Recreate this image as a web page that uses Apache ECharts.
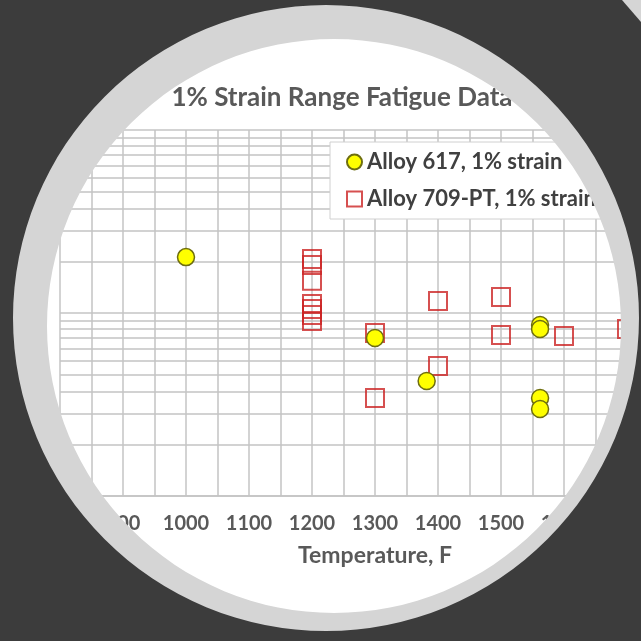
<!DOCTYPE html>
<html>
<head>
<meta charset="utf-8">
<script src="https://cdn.jsdelivr.net/npm/echarts@6/dist/echarts.min.js"></script>
<style>
  html, body { margin: 0; padding: 0; background: #3c3c3c; }
  #main { width: 641px; height: 641px; }
</style>
</head>
<body>
<div id="main"></div>
<script>
const titleText = '1% Strain Range Fatigue Data';
const seriesNames = ['Alloy 617, 1% strain', 'Alloy 709-PT, 1% strain'];

// Alloy 617 points (temperature F, cycles)
const temps617 = [1000, 1300, 1382, 1562, 1562, 1562, 1562];
const cycles617 = [2020, 730, 425, 860, 818, 343, 299];

// Alloy 709-PT points
const temps709 = [1200, 1200, 1200, 1200, 1200, 1200, 1200, 1300, 1300, 1400, 1400, 1500, 1500, 1600, 1700];
const cycles709 = [1970, 1830, 1500, 1120, 1050, 975, 905, 778, 343, 1163, 513, 1223, 758, 749, 818];

const xMin = 800, xMax = 1800, xStep = 100;
const yMin = 100, yMax = 10000;

const font = 'Lato';
const gridColor = '#c4c4c4';

function pairs(xs, ys) {
  return xs.map((x, i) => [x, ys[i]]);
}

const chart = echarts.init(document.getElementById('main'));
chart.setOption({
  backgroundColor: '#ffffff',
  animation: false,
  title: {
    text: titleText,
    left: 337,
    top: 80,
    textAlign: 'center',
    textStyle: { fontFamily: font, fontSize: 26, fontWeight: 'bold', color: '#595959' }
  },
  legend: {
    data: seriesNames,
    orient: 'vertical',
    left: 330,
    top: 142,
    padding: [9, 140, 9, 16],
    itemGap: 15,
    itemWidth: 15,
    itemHeight: 15,
    backgroundColor: '#ffffff',
    borderColor: '#d0d0d0',
    borderWidth: 1,
    textStyle: { fontFamily: font, fontSize: 22, fontWeight: 'bold', color: '#404040' }
  },
  grid: { left: 60, top: 130, width: 630, height: 366, containLabel: false, outerBoundsMode: 'none' },
  xAxis: {
    type: 'value',
    min: xMin,
    max: xMax,
    interval: xStep,
    name: 'Temperature, F',
    nameLocation: 'middle',
    nameGap: 48,
    nameTextStyle: { fontFamily: font, fontSize: 23, fontWeight: 'bold', color: '#595959' },
    axisLine: { show: true, lineStyle: { color: gridColor, width: 1.5 } },
    axisTick: { show: false },
    axisLabel: {
      margin: 18, fontFamily: font, fontSize: 20, fontWeight: 'bold', color: '#595959',
      formatter: v => String(v)
    },
    splitLine: { show: true, lineStyle: { color: gridColor, width: 1.5 } },
    minorTick: { show: false, splitNumber: 2 },
    minorSplitLine: { show: true, lineStyle: { color: gridColor, width: 1.5 } }
  },
  yAxis: {
    type: 'log',
    min: yMin,
    max: yMax,
    logBase: 10,
    axisLine: { show: false },
    axisTick: { show: false },
    axisLabel: { show: false },
    splitLine: { show: true, lineStyle: { color: gridColor, width: 1.5 } },
    minorTick: { show: false, splitNumber: 10 },
    minorSplitLine: { show: true, lineStyle: { color: gridColor, width: 1.5 } }
  },
  series: [
    {
      name: seriesNames[1],
      type: 'scatter',
      symbol: 'rect',
      symbolSize: 18,
      z: 2,
      itemStyle: { color: 'rgba(255,255,255,0)', borderColor: '#cc2424', borderWidth: 2 },
      data: pairs(temps709, cycles709)
    },
    {
      name: seriesNames[0],
      type: 'scatter',
      symbol: 'circle',
      symbolSize: 17,
      z: 3,
      itemStyle: { color: '#ffff00', borderColor: '#6e6e10', borderWidth: 1.5, opacity: 1 },
      data: pairs(temps617, cycles617)
    }
  ],
  graphic: [
    {
      type: 'ring',
      z: 100,
      silent: true,
      shape: { cx: 334, cy: 326, r0: 287, r: 340 },
      style: { fill: '#d5d5d5' }
    },
    {
      type: 'ring',
      z: 101,
      silent: true,
      shape: { cx: 326, cy: 318, r0: 313, r: 900 },
      style: { fill: '#3c3c3c' }
    },
    {
      type: 'polygon',
      z: 102,
      silent: true,
      shape: { points: [[622, 0], [641, 0], [641, 22]] },
      style: { fill: '#d5d5d5' }
    }
  ]
});
</script>
</body>
</html>
